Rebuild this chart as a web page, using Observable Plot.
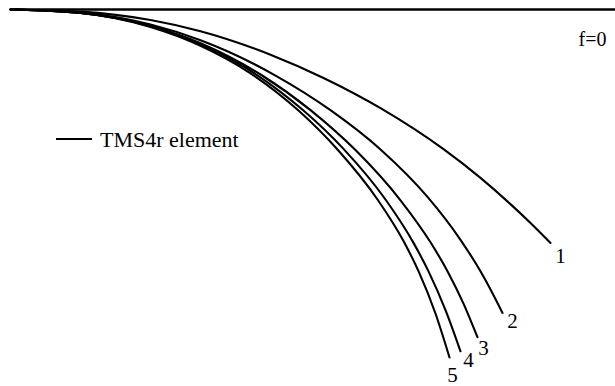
<!DOCTYPE html>
<html>
<head>
<meta charset="utf-8">
<script src="https://cdn.jsdelivr.net/npm/d3@7"></script>
<script src="https://cdn.jsdelivr.net/npm/@observablehq/plot@0.6"></script>
<style>
  html, body { margin: 0; padding: 0; background: #fff; }
  #wrap { position: relative; width: 615px; height: 386px; font-family: "Liberation Serif", "Times New Roman", serif; }
  #legend { position: absolute; left: 56px; top: 127px; display: flex; align-items: center; font-size: 22px; color: #000; white-space: nowrap; }
  #legend .sw { width: 36px; height: 0; border-top: 2px solid #000; margin-right: 8px; margin-top: -3px; }
</style>
</head>
<body>
<div id="wrap"><div id="legend"><span class="sw"></span><span>TMS4r element</span></div></div>
<script>
// Normalised position along the plate (x) and downward deflection (w)
const curveLabels = ["1", "2", "3", "4", "5"];
const x1 = [0, 0.1167, 0.2333, 0.3167, 0.4333, 0.5217, 0.6167, 0.7217, 0.7833, 0.8333, 0.8667, 0.9000];
const w1 = [0, 0.0058, 0.0292, 0.0604, 0.1256, 0.1903, 0.2742, 0.3881, 0.4678, 0.5406, 0.5931, 0.6486];
const x2 = [0, 0.1167, 0.2333, 0.3167, 0.4417, 0.5333, 0.6167, 0.6950, 0.7500, 0.7833, 0.8033, 0.8200];
const w2 = [0, 0.0088, 0.0418, 0.0856, 0.1835, 0.2797, 0.3888, 0.5206, 0.6397, 0.7272, 0.7881, 0.8428];
const x3 = [0, 0.1167, 0.2333, 0.3167, 0.4200, 0.5000, 0.5750, 0.6500, 0.7000, 0.7283, 0.7550, 0.7783];
const w3 = [0, 0.0097, 0.0457, 0.0936, 0.1840, 0.2794, 0.3906, 0.5300, 0.6467, 0.7269, 0.8169, 0.9103];
const x4 = [0, 0.1167, 0.2333, 0.3167, 0.4083, 0.4883, 0.5550, 0.6250, 0.6717, 0.6967, 0.7250, 0.7500];
const w4 = [0, 0.0097, 0.0467, 0.0960, 0.1792, 0.2806, 0.3872, 0.5278, 0.6483, 0.7275, 0.8350, 0.9494];
const x5 = [0, 0.1167, 0.2333, 0.3167, 0.4000, 0.4800, 0.5450, 0.6117, 0.6550, 0.6800, 0.7083, 0.7317];
const w5 = [0, 0.0097, 0.0486, 0.1008, 0.1772, 0.2806, 0.3889, 0.5278, 0.6433, 0.7267, 0.8444, 0.9667];
const baselineLabel = "f=0";
const baselineExtent = [0, 1.01];

const xsAll = [x1, x2, x3, x4, x5];
const wsAll = [w1, w2, w3, w4, w5];
const rows = [];
xsAll.forEach((xs, i) => xs.forEach((x, j) => rows.push({curve: curveLabels[i], x, w: wsAll[i][j]})));
const ends = xsAll.map((xs, i) => ({curve: curveLabels[i], x: xs[xs.length - 1], w: wsAll[i][xs.length - 1]}));
const labelOffsets = [[10, 13], [10, 8], [6, 11], [8, 9], [3, 18]];

const plot = Plot.plot({
  width: 615,
  height: 386,
  marginLeft: 10,
  marginRight: 5,
  marginTop: 9,
  marginBottom: 17,
  x: {domain: [0, 1], axis: null},
  y: {domain: [0, 1], reverse: true, axis: null},
  style: {fontFamily: "Liberation Serif, Times New Roman, serif", background: "white", overflow: "visible"},
  marks: [
    Plot.link([{x1: baselineExtent[0], x2: baselineExtent[1], w: 0}], {x1: "x1", x2: "x2", y1: "w", y2: "w", stroke: "#000", strokeWidth: 2.6, clip: false}),
    Plot.text([{x: 1, w: 0}], {x: "x", y: "w", text: () => baselineLabel, textAnchor: "end", lineAnchor: "bottom", dx: -4, dy: 36, fontSize: 20, fill: "#000"}),
    Plot.line(rows, {x: "x", y: "w", z: "curve", stroke: "#000", strokeWidth: 2.1, curve: "monotone-x"}),
    ...ends.map((e, i) => Plot.text([e], {x: "x", y: "w", text: "curve", dx: labelOffsets[i][0], dy: labelOffsets[i][1], fontSize: 21, fill: "#000", textAnchor: "middle", lineAnchor: "middle"}))
  ]
});
document.getElementById("wrap").prepend(plot);
plot.style.position = "absolute";
plot.style.left = "0";
plot.style.top = "0";
</script>
</body>
</html>
